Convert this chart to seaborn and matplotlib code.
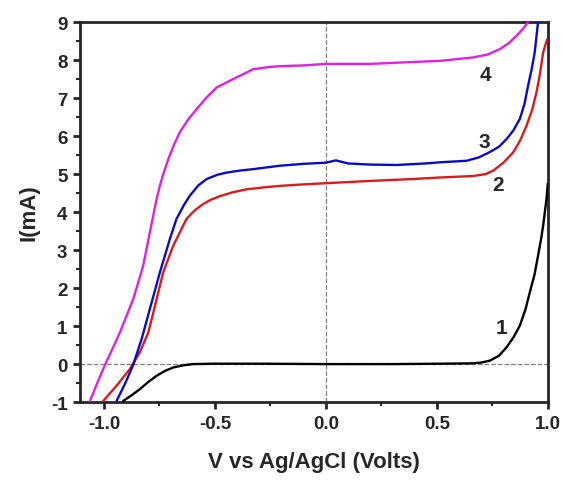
import matplotlib
matplotlib.use('Agg')
import matplotlib.pyplot as plt
import pandas as pd
import seaborn as sns
from matplotlib.ticker import MultipleLocator

# Data (V vs Ag/AgCl, current in mA)
v1 = [-0.913, -0.875, -0.838, -0.80, -0.763, -0.725, -0.688, -0.64, -0.598, -0.5, -0.3, 0.0, 0.3, 0.514, 0.664, 0.70, 0.739, 0.78, 0.814, 0.845, 0.874, 0.90, 0.919, 0.94, 0.956, 0.97, 0.979, 0.994, 1.0]
i1 = [-0.97, -0.82, -0.66, -0.47, -0.31, -0.18, -0.09, -0.03, 0.0, 0.01, 0.01, 0.0, 0.0, 0.01, 0.02, 0.04, 0.09, 0.22, 0.44, 0.70, 1.01, 1.45, 1.89, 2.35, 2.85, 3.3, 3.64, 4.34, 4.75]

v2 = [-1.003, -0.943, -0.883, -0.838, -0.80, -0.770, -0.733, -0.688, -0.628, -0.590, -0.553, -0.52, -0.477, -0.42, -0.357, -0.28, -0.207, -0.1, 0.0, 0.2, 0.39, 0.514, 0.664, 0.72, 0.754, 0.80, 0.844, 0.875, 0.904, 0.93, 0.949, 0.965, 0.979, 0.997]
i2 = [-0.97, -0.57, -0.13, 0.31, 0.83, 1.53, 2.41, 3.11, 3.82, 4.05, 4.21, 4.32, 4.42, 4.52, 4.60, 4.65, 4.69, 4.73, 4.76, 4.82, 4.87, 4.91, 4.95, 5.0, 5.09, 5.3, 5.57, 5.88, 6.27, 6.7, 7.15, 7.65, 8.2, 8.55]

v3 = [-0.943, -0.905, -0.868, -0.830, -0.793, -0.748, -0.703, -0.673, -0.640, -0.613, -0.575, -0.537, -0.49, -0.447, -0.39, -0.327, -0.207, -0.1, 0.0, 0.045, 0.1, 0.2, 0.32, 0.45, 0.514, 0.634, 0.69, 0.739, 0.78, 0.814, 0.845, 0.874, 0.895, 0.911, 0.927, 0.941, 0.956]
i3 = [-0.97, -0.52, -0.02, 0.66, 1.45, 2.41, 3.29, 3.82, 4.18, 4.43, 4.70, 4.87, 4.98, 5.04, 5.09, 5.13, 5.22, 5.27, 5.30, 5.36, 5.28, 5.25, 5.24, 5.28, 5.31, 5.35, 5.44, 5.58, 5.72, 5.92, 6.15, 6.45, 6.85, 7.32, 7.75, 8.2, 9.0]

v4 = [-1.063, -1.03, -0.995, -0.96, -0.928, -0.898, -0.868, -0.845, -0.823, -0.808, -0.793, -0.778, -0.763, -0.748, -0.730, -0.710, -0.685, -0.658, -0.62, -0.582, -0.54, -0.492, -0.418, -0.327, -0.252, -0.207, -0.1, 0.0, 0.2, 0.392, 0.514, 0.664, 0.73, 0.784, 0.825, 0.859, 0.888, 0.911]
i4 = [-0.97, -0.5, -0.02, 0.42, 0.83, 1.27, 1.71, 2.15, 2.59, 3.03, 3.47, 3.9, 4.34, 4.69, 5.05, 5.39, 5.76, 6.10, 6.44, 6.71, 7.0, 7.28, 7.5, 7.76, 7.82, 7.84, 7.86, 7.9, 7.9, 7.95, 7.98, 8.07, 8.15, 8.29, 8.45, 8.64, 8.82, 9.0]

curve_names = ['1', '2', '3', '4']
curve_colors = ['black', '#dd1a1a', '#0a0acc', '#e020e0']
label_x = [0.79, 0.775, 0.715, 0.72]
label_y = [0.97, 4.72, 5.87, 7.63]

frames = []
for name, v, i in zip(curve_names, [v1, v2, v3, v4], [i1, i2, i3, i4]):
    frames.append(pd.DataFrame({'V': v, 'I': i, 'curve': name}))
df = pd.concat(frames, ignore_index=True)

sns.set_style('ticks')
plt.rcParams['font.family'] = ['Liberation Sans', 'DejaVu Sans']
plt.rcParams['font.weight'] = 'bold'

fig = plt.figure(figsize=(5.63, 4.81), dpi=100)
ax = fig.add_axes([0.142, 0.162, 0.831, 0.790])

ax.axhline(0, color='gray', ls='--', lw=0.9, zorder=1)
ax.axvline(0, color='gray', ls='--', lw=0.9, zorder=1)

sns.lineplot(data=df, x='V', y='I', hue='curve', palette=curve_colors,
             sort=False, estimator=None, lw=1.7, legend=False, ax=ax, zorder=3)

for name, x, y in zip(curve_names, label_x, label_y):
    ax.text(x, y, name, fontsize=15, fontweight='bold', ha='center', va='center')

ax.set_xlim(-1.108, 1.0)
ax.set_ylim(-1, 9)
ax.xaxis.set_minor_locator(MultipleLocator(0.25))
ax.yaxis.set_minor_locator(MultipleLocator(0.5))
ax.set_xticks([-1.0, -0.5, 0.0, 0.5, 1.0])
ax.set_xticklabels(['-1.0', '-0.5', '0.0', '0.5', '1.0'])
ax.set_yticks(range(-1, 10))
ax.set_yticklabels([str(t) for t in range(-1, 10)])

ax.tick_params(which='major', direction='out', length=5, width=2, labelsize=13.5, pad=4)
ax.tick_params(which='minor', direction='out', length=3, width=1.5)
for lab in ax.get_xticklabels() + ax.get_yticklabels():
    lab.set_fontweight('bold')
for sp in ax.spines.values():
    sp.set_linewidth(2)
    sp.set_visible(True)

ax.set_xlabel('V vs Ag/AgCl (Volts)', fontsize=16, fontweight='bold', labelpad=14)
ax.set_ylabel('I(mA)', fontsize=16, fontweight='bold', labelpad=8)

fig.savefig('out.png', dpi=100)
